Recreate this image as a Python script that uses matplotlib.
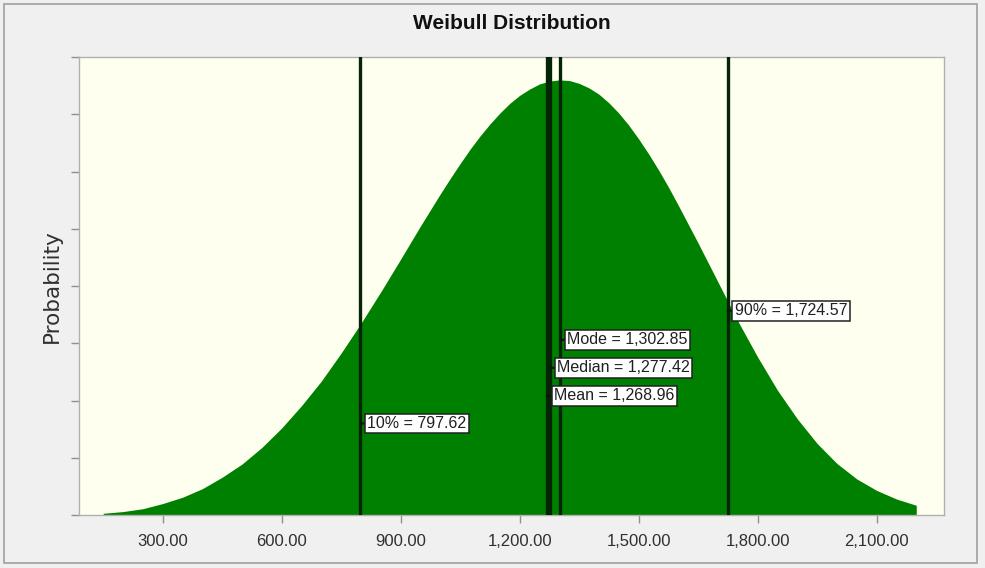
import matplotlib.pyplot as plt
from matplotlib.patches import Rectangle

# density curve (y in tick units, 8 ticks on the axis)
x_vals = [150, 200, 250, 300, 350, 400, 450, 500, 550, 600, 650, 700, 750, 800,
          850, 900, 925, 950, 975, 1000, 1025, 1050, 1075, 1100, 1125, 1150, 1175,
          1200, 1225, 1250, 1275, 1300, 1325, 1350, 1375, 1400, 1425, 1450, 1475,
          1500, 1525, 1550, 1575, 1600, 1625, 1650, 1675, 1700, 1750, 1800, 1850,
          1900, 1950, 2000, 2050, 2100, 2150, 2200]
y_vals = [0.03, 0.06, 0.11, 0.20, 0.31, 0.46, 0.66, 0.89, 1.18, 1.52, 1.91, 2.34,
          2.83, 3.35, 3.90, 4.47, 4.76, 5.05, 5.33, 5.61, 5.88, 6.14, 6.39, 6.62,
          6.83, 7.02, 7.19, 7.33, 7.44, 7.53, 7.58, 7.60, 7.59, 7.54, 7.46, 7.35,
          7.20, 7.02, 6.81, 6.57, 6.31, 6.03, 5.73, 5.41, 5.08, 4.75, 4.41, 4.07,
          3.39, 2.76, 2.18, 1.68, 1.25, 0.90, 0.63, 0.43, 0.28, 0.17]

marker_names = ['10%', 'Mean', 'Median', 'Mode', '90%']
marker_vals = [797.62, 1268.96, 1277.42, 1302.85, 1724.57]

x_ticks = [300, 600, 900, 1200, 1500, 1800, 2100]

narrow = ['Liberation Sans', 'DejaVu Sans']

fig = plt.figure(figsize=(9.85, 5.68), dpi=100, facecolor='#f0f0f0')
fig.patches.append(Rectangle((0.004, 0.008), 0.988, 0.985, transform=fig.transFigure,
                             fill=False, edgecolor='#a0a0a0', lw=1.2))
ax = fig.add_axes([0.0802, 0.0933, 0.8782, 0.8063], facecolor='#fffff0')

ax.fill_between(x_vals, 0, y_vals, color='#008000', lw=0)

# marker lines with boxed labels
label_heights = [1.6, 2.08, 2.57, 3.06, 3.57]
for name, v, h in zip(marker_names, marker_vals, label_heights):
    ax.axvline(v, color='#052405', lw=2.4, zorder=3)
    ax.annotate(f'{name} = {v:,.2f}', xy=(v, h), xytext=(5, 0),
                textcoords='offset points', ha='left', va='center',
                fontsize=11.5, family=narrow, color='#202020', zorder=5,
                bbox=dict(boxstyle='square,pad=0.15', fc='white', ec='#202020', lw=1.1),
                arrowprops=dict(arrowstyle='-', color='#101010', lw=1.6,
                                shrinkA=0, shrinkB=0))

ax.set_xlim(89, 2270)
ax.set_ylim(0, 8)
ax.set_xticks(x_ticks)
ax.set_xticklabels([f'{t:,.2f}' for t in x_ticks], fontsize=12, family=narrow,
                   color='#303030')
ax.set_yticks(range(0, 9))
ax.set_yticklabels([])
ax.tick_params(axis='both', direction='out', length=6, color='#909090', width=1)
ax.tick_params(axis='x', pad=8)

for s in ax.spines.values():
    s.set_color('#b0b0b0')
    s.set_linewidth(1)

ax.set_ylabel('Probability', fontsize=15.5, color='#303030', labelpad=3)
ax.set_title('Weibull Distribution', fontsize=15, fontweight='bold', family=narrow,
             color='#111111', pad=20)

plt.savefig('out.png', dpi=100, facecolor=fig.get_facecolor())
